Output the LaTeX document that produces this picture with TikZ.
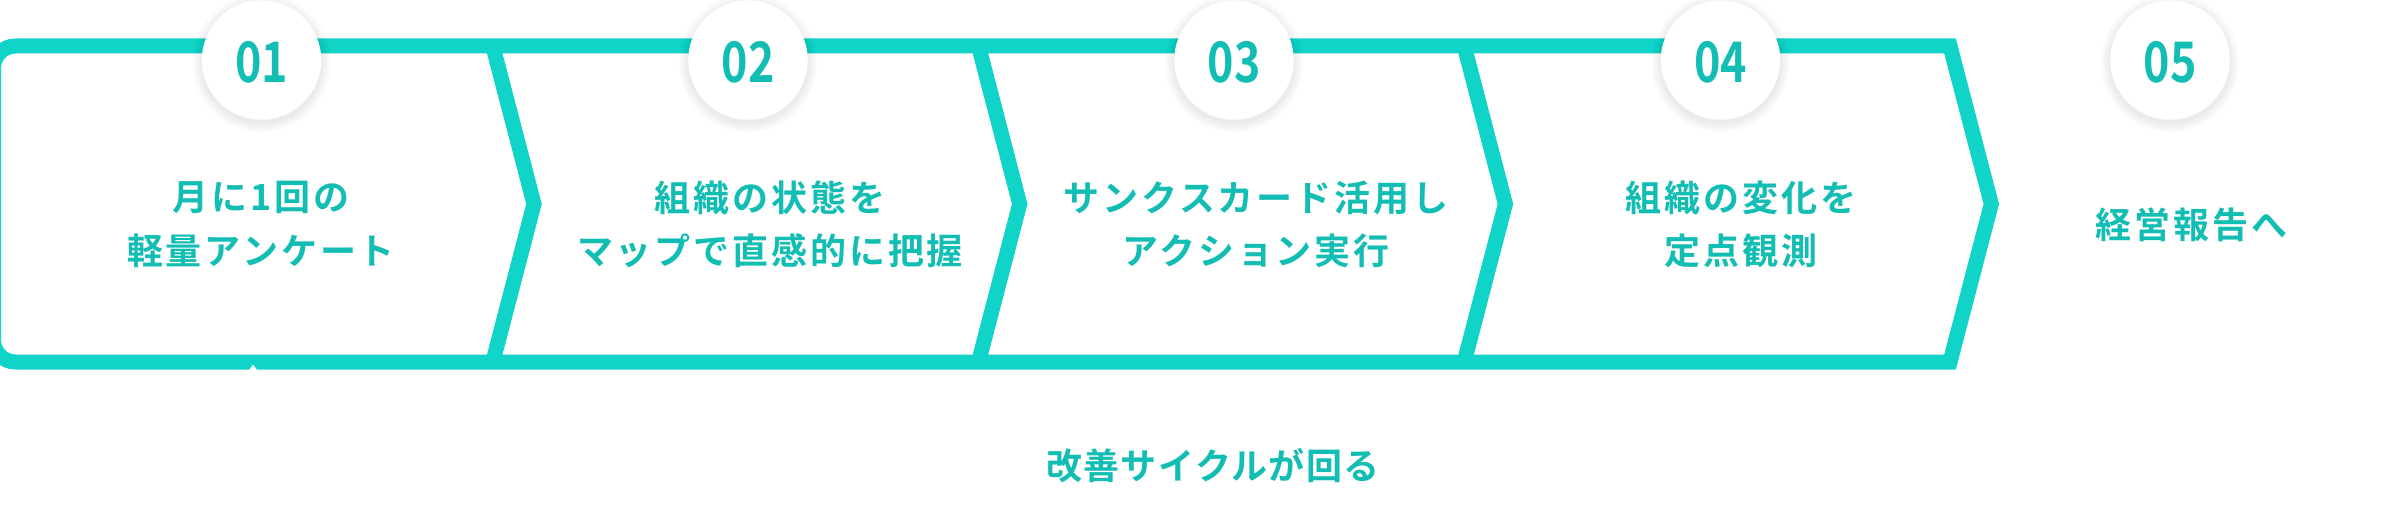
\documentclass[tikz,border=0pt]{standalone}
\usepackage{graphicx}
\usepackage{fontspec}
\newfontfamily\jp{Noto Sans CJK JP}[BoldFont=* Bold, LetterSpace=8]
\newfontfamily\jpb{Noto Sans CJK JP}[BoldFont=* Bold, LetterSpace=4]
\newfontfamily\numf{Noto Sans CJK JP}[BoldFont=* Bold]
\definecolor{band}{HTML}{10D4C8}
\definecolor{txt}{HTML}{12BDB4}
\tikzset{
  bandline/.style={draw=band, line width=15pt, line join=miter, miter limit=10},
  disc/.style={circle, fill=white, minimum size=119.4pt, inner sep=0pt},
  stepnum/.style={font=\numf\bfseries\fontsize{56}{56}\selectfont, text=txt, inner sep=0pt},
  steptext/.style={font=\jp\bfseries\fontsize{36}{53.5}\selectfont, text=txt, align=center, inner sep=0pt},
  cycletext/.style={font=\jpb\bfseries\fontsize{36}{40}\selectfont, text=txt, inner sep=0pt},
}
\begin{document}
\begin{tikzpicture}[x=1pt,y=-1pt]
\useasboundingbox (0,0) rectangle (2400,508);
\fill[white] (0,0) rectangle (2400,508);
% outer band
\draw[bandline] (200,362) -- (1950,362) -- (1991.3,204) -- (1950,46) -- (15.5,46)
  .. controls (3.4,46) and (-6.5,55.9) .. (-6.5,68) -- (-6.5,340)
  .. controls (-6.5,352.1) and (3.4,362) .. (15.5,362) -- cycle;
% inner chevrons
\foreach \cx in {492.8,978.5,1464.2}
  \draw[bandline] (\cx,46) -- ({\cx+41.2},204) -- (\cx,362);
% small notch
\fill[white] (249,370) -- (253,364.5) -- (257,370) -- cycle;
% circle shadows
\foreach \cx in {261.5,748,1234,1720.5,2170}
  \foreach \i in {1,...,10}
    \fill[black, opacity=0.008] (\cx,63) circle ({59.7+\i});
% circles
\node[disc] (c1) at (261.5,60) {};
\node[disc] (c2) at (748,60) {};
\node[disc] (c3) at (1234,60) {};
\node[disc] (c4) at (1720.5,60) {};
\node[disc] (c5) at (2170,60) {};
% numbers
\node[stepnum, anchor=base] (n1) at (261.5,82.3) {\scalebox{0.8}[1]{01}};
\node[stepnum, anchor=base] (n2) at (748,82.3) {\scalebox{0.8}[1]{02}};
\node[stepnum, anchor=base] (n3) at (1234,82.3) {\scalebox{0.8}[1]{03}};
\node[stepnum, anchor=base] (n4) at (1720.5,82.3) {\scalebox{0.8}[1]{04}};
\node[stepnum, anchor=base] (n5) at (2170,82.3) {\scalebox{0.8}[1]{05}};
% step texts
\node[steptext] (t1) at (261,224.5) {月に1回の\\軽量アンケート};
\node[steptext] (t2) at (770,224.5) {組織の状態を\\マップで直感的に把握};
\node[steptext] (t3) at (1256,224.5) {サンクスカード活用し\\アクション実行};
\node[steptext] (t4) at (1741,224.5) {組織の変化を\\定点観測};
\node[steptext] (t5) at (2191.7,224.5) {経営報告へ};
\node[cycletext] (cyc) at (1213,466) {改善サイクルが回る};
\end{tikzpicture}
\end{document}
